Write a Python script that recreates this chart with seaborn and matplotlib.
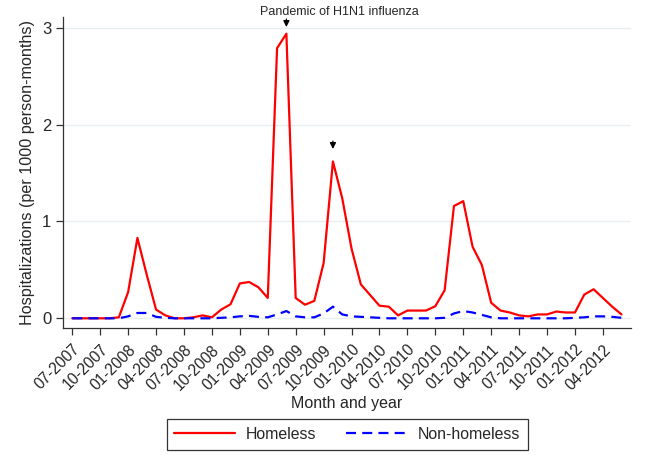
import pandas as pd
import matplotlib.pyplot as plt
import seaborn as sns

# monthly rates, 07-2007 .. 06-2012
homeless = [0.0, 0.0, 0.0, 0.0, 0.0, 0.01, 0.27, 0.83, 0.45, 0.09,
            0.03, 0.0, 0.0, 0.01, 0.03, 0.01, 0.09, 0.145, 0.36, 0.375,
            0.32, 0.21, 2.79, 2.94, 0.21, 0.14, 0.18, 0.57, 1.62, 1.24,
            0.72, 0.35, 0.24, 0.13, 0.12, 0.03, 0.08, 0.08, 0.08, 0.125,
            0.29, 1.16, 1.21, 0.74, 0.55, 0.16, 0.08, 0.06, 0.03, 0.02,
            0.04, 0.04, 0.07, 0.06, 0.06, 0.245, 0.30, 0.21, 0.12, 0.04]
non_homeless = [0.0, 0.0, 0.0, 0.0, 0.0, 0.0, 0.02, 0.055, 0.055, 0.015,
                0.005, 0.0, 0.0, 0.0, 0.0, 0.0, 0.005, 0.01, 0.02, 0.025,
                0.015, 0.01, 0.04, 0.075, 0.02, 0.01, 0.01, 0.05, 0.12, 0.04,
                0.02, 0.015, 0.01, 0.005, 0.0, 0.0, 0.0, 0.0, 0.0, 0.0,
                0.005, 0.05, 0.075, 0.06, 0.035, 0.01, 0.0, 0.0, 0.0, 0.0,
                0.0, 0.0, 0.0, 0.0, 0.005, 0.01, 0.02, 0.02, 0.015, 0.005]
tick_labels = ["07-2007", "10-2007", "01-2008", "04-2008", "07-2008", "10-2008",
               "01-2009", "04-2009", "07-2009", "10-2009", "01-2010", "04-2010",
               "07-2010", "10-2010", "01-2011", "04-2011", "07-2011", "10-2011",
               "01-2012", "04-2012"]

df = pd.DataFrame({"month": range(len(homeless)),
                   "Homeless": homeless,
                   "Non-homeless": non_homeless})

sns.set_style("white")
plt.rcParams['font.family'] = ['Liberation Sans', 'DejaVu Sans']

fig = plt.figure(figsize=(6.49, 4.73), dpi=100)
ax = fig.add_axes([0.097, 0.3066, 0.875, 0.657])

for y in [0, 1, 2, 3]:
    ax.axhline(y, color="#e6eef0", lw=1, zorder=0)

sns.lineplot(data=df, x="month", y="Homeless", color="red", lw=1.6, ax=ax, label="Homeless")
sns.lineplot(data=df, x="month", y="Non-homeless", color="blue", lw=1.6, ax=ax,
             label="Non-homeless", linestyle=(0, (4.5, 2.8)))

ax.set_xlim(-1, 60)
ax.set_ylim(-0.1, 3.11)
ax.set_xticks(range(0, 60, 3))
ax.set_xticklabels(tick_labels, rotation=45, ha="right", rotation_mode="anchor", fontsize=11.2)
ax.set_yticks([0, 1, 2, 3])
ax.set_yticklabels(["0", "1", "2", "3"], fontsize=12)
ax.tick_params(axis="both", direction="out", length=5, color="#333333", width=0.9, bottom=True, left=True)
ax.tick_params(axis="x", pad=5)
for s in ["top", "right"]:
    ax.spines[s].set_visible(False)
for s in ["left", "bottom"]:
    ax.spines[s].set_color("#333333")
    ax.spines[s].set_linewidth(0.9)
ax.set_xlabel("Month and year", fontsize=11.5, labelpad=2)
ax.set_ylabel("Hospitalizations (per 1000 person-months)", fontsize=11.6, labelpad=5)

ax.annotate("", xy=(23, 2.98), xytext=(23, 3.12),
            arrowprops=dict(arrowstyle="-|>", color="black", lw=0.9, mutation_scale=9),
            annotation_clip=False)
ax.annotate("", xy=(28, 1.72), xytext=(28, 1.86),
            arrowprops=dict(arrowstyle="-|>", color="black", lw=0.9, mutation_scale=9))
ax.text(28.7, 3.165, "Pandemic of H1N1 influenza", ha="center", va="center", fontsize=9)

ax.get_legend().remove()
handles, labels = ax.get_legend_handles_labels()
leg = fig.legend(handles, labels, loc="center", bbox_to_anchor=(0.535, 0.082), ncol=2,
                 frameon=True, fancybox=False, edgecolor="black", fontsize=11.4,
                 handlelength=3.8, handletextpad=0.7, columnspacing=1.9, borderpad=0.5)
leg.get_frame().set_linewidth(0.9)

fig.savefig("out.png", dpi=100, facecolor="white")
